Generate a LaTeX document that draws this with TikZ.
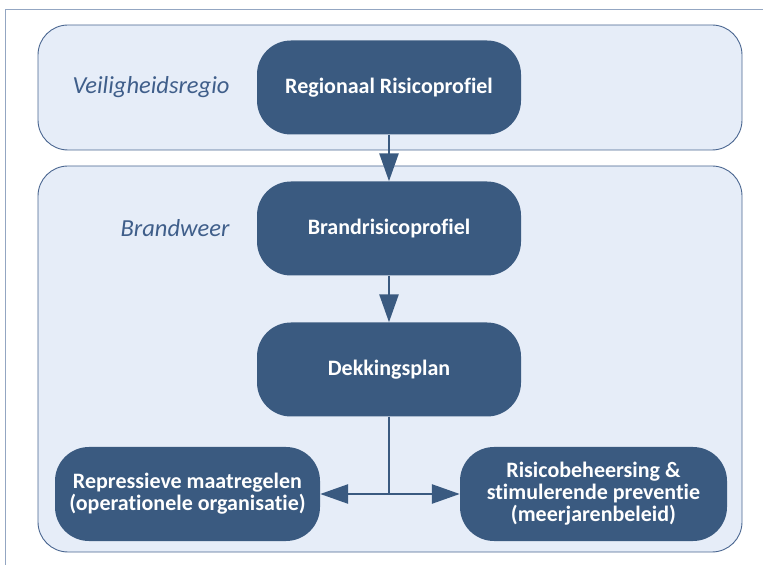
\documentclass[tikz,border=0pt]{standalone}
\usepackage{fontspec}
\setmainfont{Carlito}[Ligatures=NoCommon]
\usetikzlibrary{shapes.geometric, arrows.meta}
\definecolor{donker}{HTML}{3A5A80}
\definecolor{licht}{HTML}{E6EDF8}
\definecolor{rand}{HTML}{4A6690}
\definecolor{kader}{HTML}{93A6C2}
\definecolor{labelkleur}{HTML}{3F5E8A}
\tikzstyle{container} = [
  rectangle,
  rounded corners=30pt,
  minimum width=704pt,
  fill=licht,
  draw=rand,
  line width=0.9pt
]
\tikzstyle{blok} = [
  rectangle,
  rounded corners=34pt,
  minimum width=264pt,
  minimum height=94pt,
  align=center,
  fill=donker,
  text=white,
  font=\fontsize{22}{22}\selectfont\bfseries
]
\tikzstyle{label} = [
  anchor=east,
  text=labelkleur,
  font=\fontsize{24.5}{24.5}\selectfont\itshape
]
\tikzstyle{lijn} = [donker, line width=2.7pt]
\tikzstyle{arrow} = [lijn, -{Triangle[length=28pt,width=19pt]}]

\begin{document}
\begin{tikzpicture}[x=1pt, y=1pt, node distance=141pt]
    \useasboundingbox (0,0) rectangle (763,565);

    % Kader
    \draw [kader, line width=1.5pt] (763,555.5) -- (5.5,555.5) -- (5.5,0);

    % Achtergronden
    \node (regio) [container, minimum height=125pt] at (390,477.5) {};
    \node (brandweer) [container, minimum height=386pt] at (390,206) {};
    \node (regiolabel) [label] at (233,477.5) {Veiligheidsregio};
    \node (brandlabel) [label] at (233,337) {Brandweer};

    % Blokken
    \node (rrp) [blok] at (389,477.5) {Regionaal Risicoprofiel};
    \node (brp) [blok, below of=rrp] {Brandrisicoprofiel};
    \node (dekking) [blok, below of=brp] {Dekkingsplan};
    \node (repressie) [blok, minimum width=265pt] at (187.5,71) {Repressieve maatregelen\\(operationele organisatie)};
    \node (preventie) [blok, minimum width=267pt] at (593.5,71) {Risicobeheersing \&\\stimulerende preventie\\(meerjarenbeleid)};

    % Splitsing onder het dekkingsplan
    \coordinate (split) at (dekking |- repressie);

    % Pijlen
    \draw [arrow] (rrp) -- (brp);
    \draw [arrow] (brp) -- (dekking);
    \draw [lijn] (dekking) -- (split);
    \draw [arrow] (split) -- (repressie);
    \draw [arrow] (split) -- (preventie);

\end{tikzpicture}
\end{document}
